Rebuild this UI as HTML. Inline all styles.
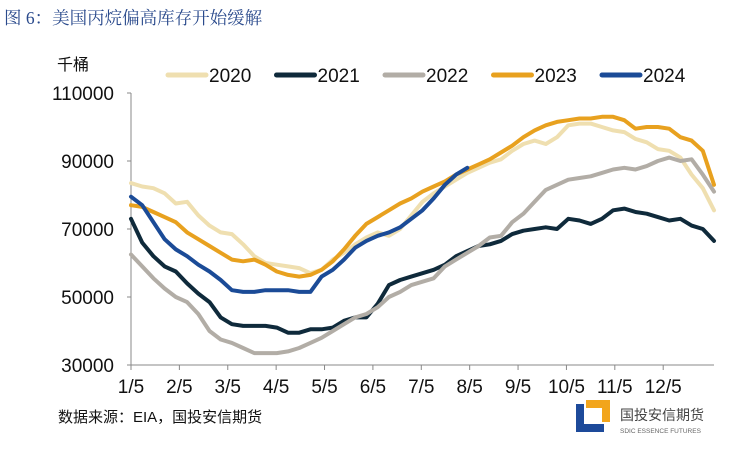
<!DOCTYPE html>
<html><head><meta charset="utf-8"><style>
body{margin:0;background:#fff;width:735px;height:444px;overflow:hidden;font-family:"Liberation Sans Narrow","Liberation Sans","Noto Sans CJK SC",sans-serif}
</style></head><body>
<svg width="735" height="444" viewBox="0 0 735 444" font-family="'Liberation Sans Narrow','Liberation Sans','Noto Sans CJK SC',sans-serif">
<text x="4" y="24" font-family="'Liberation Serif','Noto Serif CJK SC',serif" font-size="17.5" fill="#2a4a8c">图 6：美国丙烷偏高库存开始缓解</text>
<text x="57" y="70" font-size="16" fill="#111" font-family="'Liberation Sans','Noto Sans CJK SC',sans-serif">千桶</text>
<g id="legend"></g>
<g id="axes"></g>
<g id="plot"></g>
<text x="58" y="422" font-size="15" fill="#111" font-family="'Liberation Sans','Noto Sans CJK SC',sans-serif">数据来源：EIA，国投安信期货</text>
<g>
<rect x="576" y="404" width="28" height="28" fill="#1d4a9a"/>
<rect x="584" y="404" width="20" height="20" fill="#fff"/>
<rect x="586" y="400" width="24" height="22" fill="#f2a51c"/>
<rect x="586" y="408" width="16" height="14" fill="#fff"/>
<text x="620" y="420" font-size="14" fill="#444" font-family="'Liberation Sans','Noto Sans CJK SC',sans-serif">国投安信期货</text>
<text x="620" y="433" font-size="6.5" fill="#666">SDIC ESSENCE FUTURES</text>
</g>
</svg>
<script>
const months = ["1/5","2/5","3/5","4/5","5/5","6/5","7/5","8/5","9/5","10/5","11/5","12/5"];
const yTicks = [30000,50000,70000,90000,110000];
const seriesNames = ["2020","2021","2022","2023","2024"];
const s2020 = [83.5,82.5,82,80.5,77.5,78,74,71,69,68.5,65.5,62,60,59.5,59,58.5,57,58,61,63,65.5,67.5,69,68,70,74,78,80.5,82.5,84.5,86.5,88,89.5,90.5,93,95,96,95,97,100.5,101,101,100,99,98.5,96.5,95.5,93.5,93,91,86,82,75.5];
const s2021 = [73,66,62,59,57.5,54,51,48.5,44,42,41.5,41.5,41.5,41,39.5,39.5,40.5,40.5,41,43,44,44,48,53.5,55,56,57,58,59.5,62,63.5,65,65.5,66.5,68.5,69.5,70,70.5,70,73,72.5,71.5,73,75.5,76,75,74.5,73.5,72.5,73,71,70,66.5];
const s2022 = [62.5,59,55.5,52.5,50,48.5,45,40,37.5,36.5,35,33.5,33.5,33.5,34,35,36.5,38,40,42,44,45,47,50,51.5,53.5,54.5,55.5,59,61,63,65,67.5,68,72,74.5,78,81.5,83,84.5,85,85.5,86.5,87.5,88,87.5,88.5,90,91,90,90.5,86,81];
const s2023 = [77,76.5,75,73.5,72,69,67,65,63,61,60.5,61,59.5,57.5,56.5,56,56.5,58,60.5,64,68,71.5,73.5,75.5,77.5,79,81,82.5,84,86,87.5,89,90.5,92.5,94.5,97,99,100.5,101.5,102,102.5,102.5,103,103,102,99.5,100,100,99.5,97,96,93,83];
const s2024 = [79.5,77,72,67,64,62,59.5,57.5,55,52,51.5,51.5,52,52,52,51.5,51.5,56,58,61,64.5,66.5,68,69,70.5,73,75.5,79,83,86,88];
const colors = ["#efdfb0","#0f2a3b","#b2ada6","#e8a11f","#1b4b97"];
const NS="http://www.w3.org/2000/svg";
const X0=131,X1=714,Y0=365,Y1=93;
const xw = i => X0 + i*(X1-X0)/52;
const yv = v => Y0 - (v*1000-30000)/80000*(Y0-Y1);
const monthX = m => X0 + m*(X1-X0)/12.05;
function mk(tag,attrs,parent){const e=document.createElementNS(NS,tag);for(const k in attrs)e.setAttribute(k,attrs[k]);parent.appendChild(e);return e;}
const axes=document.getElementById('axes'), plot=document.getElementById('plot'), legend=document.getElementById('legend');
let a=mk('line',{x1:X0,y1:Y1,x2:X0,y2:Y0,stroke:'#888','stroke-width':1},axes);


a=mk('line',{x1:X0,y1:Y0,x2:X1,y2:Y0,stroke:'#888','stroke-width':1},axes);


yTicks.forEach(t=>{
  const y=yv(t/1000);
  mk('line',{x1:X0-4,y1:y,x2:X0,y2:y,stroke:'#888'},axes);
  const tx=mk('text',{x:114,y:y+7,'text-anchor':'end','font-size':19,fill:'#111'},axes);
  tx.textContent=t;
  
  
});
months.forEach((m,i)=>{
  const x=monthX(i);
  mk('line',{x1:x,y1:Y0,x2:x,y2:Y0+5,stroke:'#888'},axes);
  const tx=mk('text',{x:x,y:393,'text-anchor':'middle','font-size':19,fill:'#111'},axes);
  tx.textContent=m;
  
  
});
[s2020,s2021,s2022,s2023,s2024].forEach((s,k)=>{
  const pts=s.map((v,i)=>xw(i).toFixed(1)+','+yv(v).toFixed(1)).join(' ');
  const p=mk('polyline',{points:pts,fill:'none',stroke:colors[k],'stroke-width':4,'stroke-linejoin':'round','stroke-linecap':'round'},plot);
  
  
});
seriesNames.forEach((n,k)=>{
  const x=168+k*108.5;
  const g=mk('g',{},legend);
  
  
  mk('line',{x1:x,y1:75,x2:x+38,y2:75,stroke:colors[k],'stroke-width':5,'stroke-linecap':'round'},g);
  const t=mk('text',{x:x+41,y:82,'font-size':19,fill:'#111'},g);
  t.textContent=n;
});
</script>
</body></html>
